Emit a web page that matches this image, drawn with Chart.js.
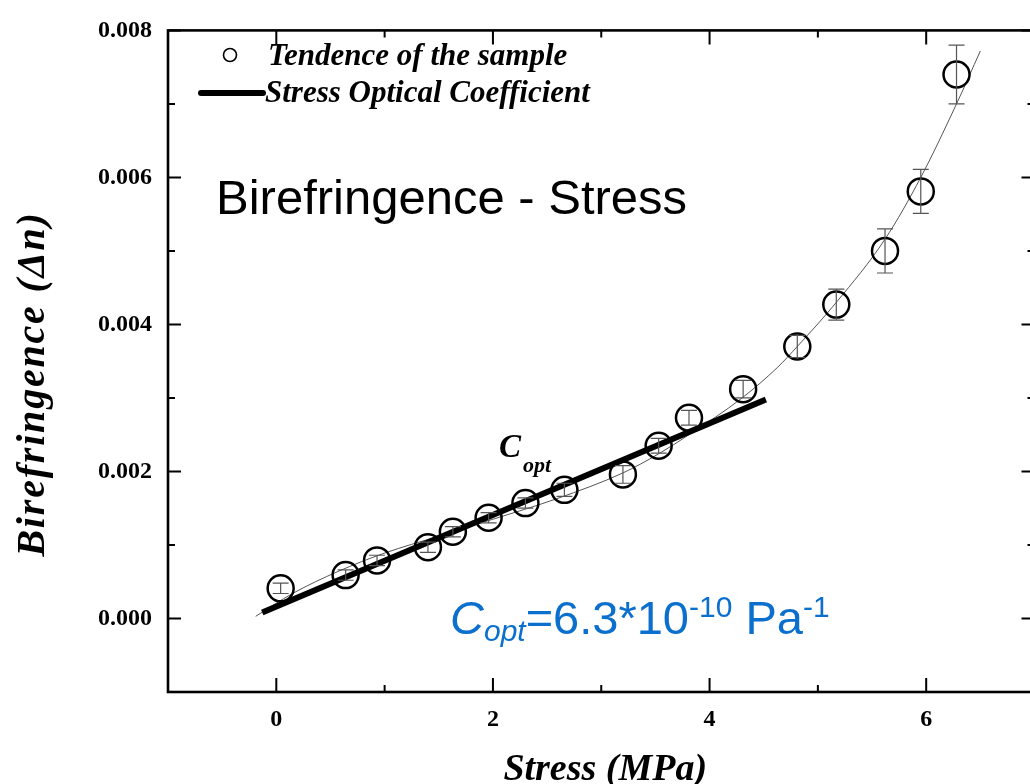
<!DOCTYPE html>
<html>
<head>
    <title>Birefringence - Stress</title>
    <script src="https://cdn.jsdelivr.net/npm/chart.js"></script>
    <style>
        html, body { margin: 0; padding: 0; overflow: hidden; background: #fff; }
        #wrap { position: relative; width: 1050px; height: 784px; }
    </style>
</head>
<body>
    <div id="wrap"><canvas id="birefChart"></canvas></div>

    <script>
        // Measured sample points (MPa, birefringence) and their error bars
        var stressPoints = [0.04, 0.64, 0.93, 1.40, 1.63, 1.96, 2.30, 2.66, 3.20, 3.53, 3.81, 4.31, 4.81, 5.17, 5.62, 5.95, 6.28];
        var birefPoints = [0.00041, 0.00059, 0.00079, 0.00097, 0.00118, 0.00137, 0.00157, 0.00175, 0.00196, 0.00235, 0.00273, 0.00312, 0.00370, 0.00427, 0.00500, 0.00581, 0.00740];
        var birefErrors = [0.00007, 0.00007, 0.00007, 0.00007, 0.00007, 0.00007, 0.00007, 0.00009, 0.00012, 0.0001, 0.0001, 0.00012, 0.00015, 0.00021, 0.0003, 0.0003, 0.0004];

        // Trend curve through the samples
        var fitStress = [-0.19, 0.15, 0.57, 1.0, 1.5, 2.0, 2.59, 3.2, 3.53, 3.81, 4.3, 4.63, 4.81, 5.17, 5.62, 5.95, 6.28, 6.5];
        var fitBiref = [0.00003, 0.00034, 0.00064, 0.00089, 0.00112, 0.00135, 0.00163, 0.00198, 0.00224, 0.0025, 0.0030, 0.00342, 0.0037, 0.0043, 0.00516, 0.0060, 0.0070, 0.00772];

        // Stress optical coefficient straight line
        var socStress = [-0.13, 4.52];
        var socBiref = [0.00008, 0.00298];

        // Tick labels
        var xTickValues = [0, 2, 4, 6];
        var xTickLabels = ['0', '2', '4', '6'];
        var yTickValues = [0, 0.002, 0.004, 0.006, 0.008];
        var yTickLabels = ['0.000', '0.002', '0.004', '0.006', '0.008'];

        var SERIF = '"Liberation Serif", "Times New Roman", serif';
        var SANS = '"Liberation Sans", Arial, sans-serif';

        function toXY(xs, ys) {
            return xs.map(function (x, i) { return { x: x, y: ys[i] }; });
        }

        function findLabel(values, labels, v) {
            for (var i = 0; i < values.length; i++) {
                if (Math.abs(values[i] - v) < 1e-9) return labels[i];
            }
            return '';
        }

        // Frame with inward ticks on all four sides
        var framePlugin = {
            id: 'frame',
            afterDraw: function (chart) {
                var ctx = chart.ctx, a = chart.chartArea;
                var xs = chart.scales.x, ys = chart.scales.y;
                ctx.save();
                ctx.strokeStyle = '#000';
                ctx.lineWidth = 2;
                ctx.beginPath();
                for (var v = -1; v <= 7; v++) {
                    var px = xs.getPixelForValue(v);
                    var len = (v % 2 === 0) ? 14 : 7;
                    ctx.moveTo(px, a.bottom); ctx.lineTo(px, a.bottom - len);
                    ctx.moveTo(px, a.top); ctx.lineTo(px, a.top + len);
                }
                for (var k = -1; k <= 8; k++) {
                    var py = ys.getPixelForValue(k * 0.001);
                    var l2 = (k % 2 === 0) ? 13 : 7;
                    ctx.moveTo(a.left, py); ctx.lineTo(a.left + l2, py);
                    ctx.moveTo(a.right, py); ctx.lineTo(a.right - l2, py);
                }
                ctx.stroke();
                ctx.lineWidth = 2.6;
                ctx.strokeRect(a.left, a.top, a.right - a.left, a.bottom - a.top);
                ctx.restore();
            }
        };

        // Vertical error bars with caps
        var errorBarPlugin = {
            id: 'errorBars',
            afterDatasetsDraw: function (chart) {
                var ctx = chart.ctx, xs = chart.scales.x, ys = chart.scales.y;
                ctx.save();
                ctx.strokeStyle = '#555';
                ctx.lineWidth = 1.2;
                ctx.beginPath();
                stressPoints.forEach(function (s, i) {
                    var px = xs.getPixelForValue(s);
                    var top = ys.getPixelForValue(birefPoints[i] + birefErrors[i]);
                    var bot = ys.getPixelForValue(birefPoints[i] - birefErrors[i]);
                    ctx.moveTo(px, top); ctx.lineTo(px, bot);
                    ctx.moveTo(px - 8, top); ctx.lineTo(px + 8, top);
                    ctx.moveTo(px - 8, bot); ctx.lineTo(px + 8, bot);
                });
                ctx.stroke();
                ctx.restore();
            }
        };

        // Titles, legend and annotations
        var textPlugin = {
            id: 'texts',
            afterDraw: function (chart) {
                var ctx = chart.ctx, a = chart.chartArea;
                ctx.save();
                ctx.fillStyle = '#000';
                ctx.textBaseline = 'alphabetic';

                // axis titles
                ctx.font = 'italic bold 38px ' + SERIF;
                ctx.textAlign = 'center';
                ctx.fillText('Stress (MPa)', (a.left + a.right) / 2 + 4, 780);

                ctx.save();
                ctx.translate(44, 384);
                ctx.rotate(-Math.PI / 2);
                ctx.font = 'italic bold 40px ' + SERIF;
                ctx.letterSpacing = '1.8px';
                ctx.fillText('Birefringence (\u0394n)', 0, 0);
                ctx.restore();

                // legend
                ctx.textAlign = 'left';
                ctx.lineWidth = 1.6;
                ctx.strokeStyle = '#000';
                ctx.beginPath();
                ctx.arc(230, 55, 6.5, 0, Math.PI * 2);
                ctx.stroke();
                ctx.lineWidth = 6;
                ctx.lineCap = 'round';
                ctx.beginPath();
                ctx.moveTo(201, 93); ctx.lineTo(263, 93);
                ctx.stroke();
                ctx.font = 'italic bold 31px ' + SERIF;
                ctx.fillText('Tendence of the sample', 268, 65);
                ctx.fillText('Stress Optical Coefficient', 265, 102);

                // C_opt label near the line
                ctx.font = 'italic bold 33px ' + SERIF;
                ctx.fillText('C', 499, 457);
                ctx.font = 'italic bold 22px ' + SERIF;
                ctx.fillText('opt', 523, 472);

                // chart title
                ctx.font = '49px ' + SANS;
                ctx.fillText('Birefringence - Stress', 216, 214);

                // blue coefficient text
                ctx.fillStyle = '#0b6fce';
                var x = 450, base = 634, sup = 617, sub = 641;
                var parts = [
                    ['C', 'italic 47px ', base],
                    ['opt', 'italic 30px ', sub],
                    ['=6.3*10', '47px ', base],
                    ['-10', '30px ', sup],
                    [' Pa', '47px ', base],
                    ['-1', '30px ', sup]
                ];
                parts.forEach(function (p) {
                    ctx.font = p[1] + SANS;
                    ctx.fillText(p[0], x, p[2]);
                    x += ctx.measureText(p[0]).width;
                });
                ctx.restore();
            }
        };

        var canvas = document.getElementById('birefChart');

        var chart = new Chart(canvas, {
            type: 'scatter',
            data: {
                datasets: [
                    {
                        label: 'Tendence of the sample',
                        data: toXY(stressPoints, birefPoints),
                        pointRadius: 13,
                        pointBorderWidth: 2.5,
                        pointBorderColor: '#000',
                        pointBackgroundColor: 'rgba(0,0,0,0)',
                        showLine: false,
                        order: 0
                    },
                    {
                        label: 'Stress Optical Coefficient',
                        data: toXY(socStress, socBiref),
                        showLine: true,
                        borderColor: '#000',
                        borderWidth: 6,
                        pointRadius: 0,
                        order: 1
                    },
                    {
                        label: 'fit',
                        data: toXY(fitStress, fitBiref),
                        showLine: true,
                        borderColor: '#555',
                        borderWidth: 1,
                        cubicInterpolationMode: 'monotone',
                        pointRadius: 0,
                        order: 2
                    }
                ]
            },
            options: {
                responsive: true,
                maintainAspectRatio: false,
                animation: false,
                layout: { padding: { top: 22, right: 8, left: 0, bottom: 0 } },
                plugins: {
                    legend: { display: false },
                    tooltip: { enabled: false }
                },
                scales: {
                    x: {
                        type: 'linear',
                        min: -1,
                        max: 7,
                        grid: { display: false, drawTicks: false },
                        border: { display: false },
                        afterFit: function (scale) { scale.height = 92; },
                        ticks: {
                            stepSize: 1,
                            autoSkip: false,
                            maxRotation: 0,
                            padding: 13,
                            color: '#000',
                            font: { family: SERIF, size: 24, weight: 'bold' },
                            callback: function (v) { return findLabel(xTickValues, xTickLabels, v); }
                        }
                    },
                    y: {
                        type: 'linear',
                        min: -0.001,
                        max: 0.008,
                        grid: { display: false, drawTicks: false },
                        border: { display: false },
                        afterFit: function (scale) { scale.width = 168; },
                        ticks: {
                            stepSize: 0.001,
                            autoSkip: false,
                            padding: 16,
                            color: '#000',
                            font: { family: SERIF, size: 24, weight: 'bold' },
                            callback: function (v) { return findLabel(yTickValues, yTickLabels, v); }
                        }
                    }
                }
            },
            plugins: [framePlugin, errorBarPlugin, textPlugin]
        });
    </script>
</body>
</html>
